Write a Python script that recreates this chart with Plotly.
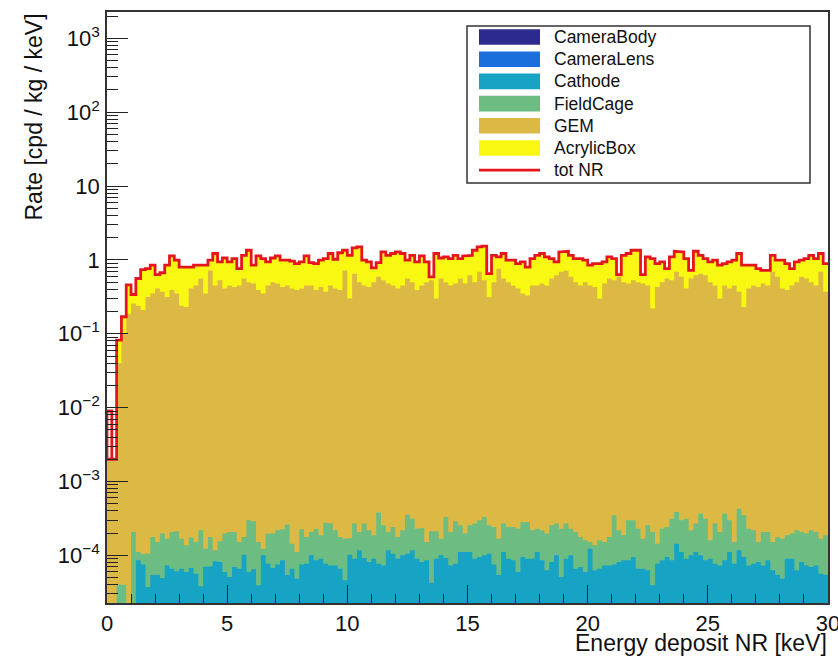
import plotly.graph_objects as go

# ---------------- data (150 bins of 0.2 keV, 0-30 keV) ----------------
bin_width = 0.2
n_bins = 150

# cumulative stack tops [cpd/kg/keV]
tot_nr = [0.009, 0.002, 0.082, 0.17, 0.46, 0.34, 0.56, 0.74, 0.76, 0.85,
          0.63, 0.67, 0.85, 1.13, 0.99, 0.80, 0.80, 0.80, 0.85, 0.86,
          0.85, 0.99, 1.22, 0.94, 1.06, 0.94, 1.04, 0.76, 1.15, 1.35,
          0.85, 1.13, 1.04, 0.94, 1.06, 1.13, 0.99, 0.99, 0.96, 0.89,
          0.94, 1.13, 0.92, 0.89, 0.99, 1.04, 1.22, 1.02, 1.25, 1.35,
          1.15, 1.45, 1.50, 0.99, 0.94, 0.78, 0.92, 1.28, 1.15, 1.22,
          1.28, 1.22, 0.99, 1.15, 0.94, 1.13, 0.94, 0.59, 1.22, 1.06,
          1.10, 1.04, 1.15, 1.04, 1.13,
          1.15, 1.35, 1.50, 1.54, 0.65, 1.15, 1.10, 1.22, 0.99, 0.99,
          0.89, 0.94, 0.80, 1.04, 1.15, 1.22, 1.10, 1.04, 0.94, 1.28,
          1.31, 1.15, 1.04, 1.04, 0.99, 0.85, 0.89, 0.89, 0.94, 1.10,
          1.04, 0.63, 1.15, 1.22, 1.35, 1.35, 0.63, 1.10, 1.04, 0.89,
          0.94, 0.76, 1.10, 1.31, 1.28, 1.04, 0.72, 1.31, 1.15, 1.04,
          0.94, 0.99, 0.85, 0.89, 0.94, 0.99, 1.22, 0.85, 0.85, 0.85,
          0.76, 0.72, 0.72, 1.15, 0.99, 0.99, 0.89, 0.76, 0.94, 0.99,
          1.04, 1.15, 1.04, 1.22, 0.89]

# top of the AcrylicBox layer (= top of the stack); first bin is empty in the stack
acrylic_top = [0.002] + tot_nr[1:]

gem_top = [0.002, 0.002, 0.04, 0.10, 0.187, 0.256, 0.24, 0.21, 0.315, 0.35,
           0.41, 0.37, 0.315, 0.39, 0.35, 0.24, 0.23, 0.41, 0.45, 0.56,
           0.35, 0.72, 0.45, 0.53, 0.41, 0.45, 0.43, 0.45, 0.56, 0.50,
           0.48, 0.39, 0.35, 0.45, 0.50, 0.48, 0.43, 0.45, 0.41, 0.39,
           0.41, 0.45, 0.45, 0.39, 0.43, 0.37, 0.45, 0.41, 0.39, 0.72,
           0.30, 0.65, 0.50, 0.45, 0.43, 0.50, 0.59, 0.53, 0.48, 0.45,
           0.41, 0.45, 0.56, 0.50, 0.39, 0.45, 0.50, 0.53, 0.30, 0.56,
           0.50, 0.45, 0.48, 0.56, 0.48,
           0.62, 0.50, 0.69, 0.53, 0.315, 0.50, 0.76, 0.56, 0.50, 0.45,
           0.41, 0.35, 0.33, 0.45, 0.45, 0.48, 0.45, 0.56, 0.62, 0.69,
           0.72, 0.59, 0.50, 0.45, 0.50, 0.45, 0.43, 0.30, 0.48, 0.56,
           0.53, 0.59, 0.50, 0.48, 0.53, 0.50, 0.48, 0.45, 0.22, 0.43,
           0.50, 0.56, 0.53, 0.69, 0.59, 0.41, 0.56, 0.62, 0.65, 0.62,
           0.50, 0.45, 0.30, 0.45, 0.41, 0.45, 0.37, 0.23, 0.41, 0.45,
           0.43, 0.48, 0.45, 0.69, 0.59, 0.41, 0.39, 0.45, 0.50, 0.59,
           0.56, 0.50, 0.45, 0.69, 0.37]

fieldcage_top = [1.0e-5, 1.0e-5, 4.0e-5, 4.0e-5, 1.5e-5, 2.07e-4, 1.11e-4, 1.05e-4, 1.05e-4, 1.77e-4,
                 1.52e-4, 1.97e-4, 1.68e-4, 2.07e-4, 2.12e-4, 1.68e-4, 1.37e-4, 1.74e-4, 1.52e-4, 2.18e-4,
                 1.23e-4, 1.77e-4, 1.17e-4, 1.55e-4, 1.97e-4, 2.07e-4, 2.07e-4, 1.52e-4, 1.77e-4, 2.98e-4,
                 2.89e-4, 1.52e-4, 1.23e-4, 1.97e-4, 1.97e-4, 2.18e-4, 2.25e-4, 2.61e-4, 1.44e-4, 1.11e-4,
                 2.25e-4, 1.77e-4, 2.07e-4, 2.30e-4, 1.87e-4, 2.77e-4, 2.69e-4, 2.18e-4, 1.77e-4, 1.68e-4,
                 1.72e-4, 2.69e-4, 2.07e-4, 2.69e-4, 2.18e-4, 1.87e-4, 3.79e-4, 2.55e-4, 2.07e-4, 2.42e-4,
                 1.77e-4, 2.18e-4, 3.56e-4, 3.14e-4, 2.30e-4, 2.35e-4, 1.52e-4, 2.12e-4, 2.12e-4, 1.68e-4,
                 3.31e-4, 2.07e-4, 2.89e-4, 2.55e-4, 1.97e-4,
                 2.55e-4, 2.69e-4, 2.98e-4, 3.31e-4, 2.55e-4, 2.42e-4, 1.68e-4, 2.69e-4, 2.42e-4, 2.42e-4,
                 2.30e-4, 2.83e-4, 2.83e-4, 2.18e-4, 2.30e-4, 2.18e-4, 1.97e-4, 2.55e-4, 2.69e-4, 2.30e-4,
                 2.69e-4, 2.30e-4, 2.07e-4, 1.77e-4, 1.60e-4, 1.52e-4, 1.37e-4, 1.60e-4, 1.52e-4, 1.77e-4,
                 3.49e-4, 2.18e-4, 1.87e-4, 2.98e-4, 2.98e-4, 2.30e-4, 1.68e-4, 2.55e-4, 2.07e-4, 1.44e-4,
                 2.30e-4, 2.42e-4, 3.14e-4, 3.87e-4, 2.98e-4, 3.14e-4, 2.18e-4, 2.69e-4, 3.67e-4, 3.14e-4,
                 1.60e-4, 2.69e-4, 2.07e-4, 3.67e-4, 2.98e-4, 1.52e-4, 4.29e-4, 3.49e-4, 2.30e-4, 2.18e-4,
                 1.52e-4, 2.07e-4, 2.07e-4, 1.52e-4, 1.77e-4, 1.68e-4, 1.87e-4, 1.97e-4, 2.18e-4, 2.07e-4,
                 1.97e-4, 2.18e-4, 2.07e-4, 1.68e-4, 1.87e-4]

cathode_top = [1.0e-5, 1.0e-5, 1.0e-5, 1.0e-5, 1.0e-5, 1.0e-5, 8.6e-5, 7.5e-5, 3.73e-5, 5.4e-5,
               5.48e-5, 4.94e-5, 7.3e-5, 6.6e-5, 6.08e-5, 6.6e-5, 5.96e-5, 6.75e-5, 5.65e-5, 3.81e-5,
               6.96e-5, 7.1e-5, 8.3e-5, 8.1e-5, 5.96e-5, 5.1e-5, 6.96e-5, 6.6e-5, 1.02e-4, 5.96e-5,
               6.47e-5, 3.93e-5, 1.0e-4, 7.7e-5, 6.75e-5, 7.5e-5, 8.6e-5, 5.4e-5, 6.6e-5, 4.84e-5,
               7.5e-5, 7.7e-5, 1.0e-4, 8.6e-5, 9.0e-5, 7.7e-5, 7.3e-5, 7.3e-5, 6.6e-5, 4.59e-5,
               1.02e-4, 9.0e-5, 1.17e-4, 9.2e-5, 8.1e-5, 9.0e-5, 7.7e-5, 7.3e-5, 1.17e-4, 1.05e-4,
               9.0e-5, 1.0e-4, 1.05e-4, 1.17e-4, 9.0e-5, 8.1e-5, 8.6e-5, 4.27e-5, 9.0e-5, 1.0e-4,
               9.2e-5, 7.3e-5, 7.7e-5, 1.11e-4, 1.13e-4,
               1.11e-4, 9.0e-5, 9.5e-5, 1.0e-4, 1.05e-4, 7.5e-5, 5.4e-5, 1.11e-4, 9.0e-5, 8.6e-5,
               5.96e-5, 9.5e-5, 9.0e-5, 9.0e-5, 1.11e-4, 8.6e-5, 6.27e-5, 8.1e-5, 1.0e-4, 5.1e-5,
               9.0e-5, 1.0e-4, 6.6e-5, 6.96e-5, 5.96e-5, 1.23e-4, 6.27e-5, 6.6e-5, 7.3e-5, 7.3e-5,
               7.5e-5, 8.1e-5, 8.6e-5, 8.6e-5, 9.5e-5, 6.6e-5, 6.6e-5, 6.27e-5, 3.93e-5, 7.7e-5,
               8.6e-5, 9.5e-5, 8.6e-5, 1.44e-4, 1.11e-4, 9.0e-5, 1.0e-4, 1.11e-4, 1.0e-4, 8.6e-5,
               9.0e-5, 7.7e-5, 7.3e-5, 8.6e-5, 1.11e-4, 7.7e-5, 1.17e-4, 9.5e-5, 7.3e-5, 7.7e-5,
               8.1e-5, 7.3e-5, 8.6e-5, 6.27e-5, 5.4e-5, 4.84e-5, 9.0e-5, 9.0e-5, 6.27e-5, 8.1e-5,
               7.3e-5, 6.96e-5, 7.3e-5, 5.65e-5, 5.4e-5]

# camera contributions lie below the visible range (< 2.3e-5); values in units of 1e-6
camera_lens_top_e6 = [7, 8, 6, 7, 9, 8, 7, 6, 8, 7, 8, 7, 9, 6, 7, 8, 7, 8, 6, 7,
                      8, 9, 7, 6, 8, 7, 7, 8, 9, 7, 6, 8, 7, 8, 7, 9, 8, 6, 7, 8,
                      7, 8, 9, 7, 8, 6, 7, 8, 7, 9, 8, 7, 6, 8, 7, 8, 9, 7, 8, 7,
                      6, 8, 7, 9, 8, 7, 8, 6, 7, 8, 9, 7, 8, 7, 6, 8, 7, 8, 9, 7,
                      8, 6, 7, 8, 7, 9, 8, 7, 6, 8, 7, 8, 9, 7, 8, 7, 6, 8, 7, 9,
                      8, 7, 8, 6, 7, 8, 9, 7, 8, 7, 6, 8, 7, 8, 9, 7, 8, 6, 7, 8,
                      7, 9, 8, 7, 6, 8, 7, 8, 9, 7, 8, 7, 6, 8, 7, 9, 8, 7, 8, 6,
                      7, 8, 9, 7, 8, 7, 6, 8, 7, 8]
camera_body_top_e6 = [3, 2, 3, 4, 3, 2, 3, 3, 4, 2, 3, 3, 2, 4, 3, 3, 2, 3, 4, 3,
                      2, 3, 3, 4, 2, 3, 3, 2, 4, 3, 3, 2, 3, 4, 3, 2, 3, 3, 4, 2,
                      3, 3, 2, 4, 3, 3, 2, 3, 4, 3, 2, 3, 3, 4, 2, 3, 3, 2, 4, 3,
                      3, 2, 3, 4, 3, 2, 3, 3, 4, 2, 3, 3, 2, 4, 3, 3, 2, 3, 4, 3,
                      2, 3, 3, 4, 2, 3, 3, 2, 4, 3, 3, 2, 3, 4, 3, 2, 3, 3, 4, 2,
                      3, 3, 2, 4, 3, 3, 2, 3, 4, 3, 2, 3, 3, 4, 2, 3, 3, 2, 4, 3,
                      3, 2, 3, 4, 3, 2, 3, 3, 4, 2, 3, 3, 2, 4, 3, 3, 2, 3, 4, 3,
                      2, 3, 3, 4, 2, 3, 3, 2, 4, 3]
camera_lens_top = [v * 1e-6 for v in camera_lens_top_e6]
camera_body_top = [v * 1e-6 for v in camera_body_top_e6]

names = ["CameraBody", "CameraLens", "Cathode", "FieldCage", "GEM", "AcrylicBox"]
colors = ["#2c2a8e", "#1b6fdc", "#17a3c4", "#6dbd82", "#dcb944", "#f8f812"]
tops = [camera_body_top, camera_lens_top, cathode_top, fieldcage_top, gem_top, acrylic_top]

y_tickvals = [1e-4, 1e-3, 1e-2, 1e-1, 1, 10, 100, 1000]
y_ticktext = ["10<sup>\u22124</sup>", "10<sup>\u22123</sup>", "10<sup>\u22122</sup>",
              "10<sup>\u22121</sup>", "1", "10", "10<sup>2</sup>", "10<sup>3</sup>"]
x_tickvals = [0, 5, 10, 15, 20, 25, 30]

edges = [i * bin_width for i in range(n_bins + 1)]
FLOOR = 1e-9
FONT = "Liberation Sans, Arial, Helvetica, sans-serif"


def step_polygon(vals):
    xs, ys = [edges[0]], [FLOOR]
    for i, v in enumerate(vals):
        xs += [edges[i], edges[i + 1]]
        ys += [v, v]
    xs.append(edges[-1])
    ys.append(FLOOR)
    return xs, ys


fig = go.Figure()
# ROOT-like THStack: cumulative layers drawn from top to bottom
for name, col, top in reversed(list(zip(names, colors, tops))):
    xs, ys = step_polygon(top)
    fig.add_trace(go.Scatter(x=xs, y=ys, mode="lines", fill="toself", fillcolor=col,
                             line=dict(width=0, color=col), name=name, showlegend=False,
                             hoverinfo="skip"))

# total NR as a red histogram line
rx, ry = [edges[1], edges[0]], [tot_nr[1], tot_nr[1]]
for i, v in enumerate(tot_nr):
    rx += [edges[i], edges[i + 1]]
    ry += [v, v]
fig.add_trace(go.Scatter(x=rx, y=ry, mode="lines", line=dict(color="#e5161b", width=2.8),
                         name="tot NR", showlegend=False, hoverinfo="skip"))

# ---------------- layout ----------------
L, R, T, B = 107, 10, 12, 53
W, H = 838, 656
PW, PH = W - L - R, H - T - B


def X(px):
    return (px - L) / PW


def Y(py):
    return (H - B - py) / PH


minor_y = [m * 10 ** e for e in range(-5, 4) for m in range(2, 10)]

fig.update_layout(
    width=W, height=H, margin=dict(l=L, r=R, t=T, b=B, autoexpand=False),
    paper_bgcolor="white", plot_bgcolor="white",
    font=dict(family=FONT, color="#111"),
    showlegend=False,
    xaxis=dict(range=[0, 30], showgrid=False, zeroline=False, showline=True, mirror=True,
               automargin=False,
               linecolor="#333", linewidth=1.6, ticks="inside", ticklen=18, tickwidth=1.4,
               tickcolor="#222", tickvals=x_tickvals, ticktext=[str(v) for v in x_tickvals],
               tickfont=dict(size=22, family=FONT, color="#111"), ticklabelstandoff=0,
               ticklabeloverflow="allow",
               minor=dict(ticks="inside", ticklen=9, tickwidth=1.2, tickcolor="#222", dtick=1)),
    yaxis=dict(type="log", range=[-4.645, 3.356], showgrid=False, zeroline=False, showline=True,
               mirror=True, automargin=False, linecolor="#333", linewidth=1.6, ticks="inside",
               ticklen=21, tickwidth=1.4, tickcolor="#222", tickvals=y_tickvals, ticktext=y_ticktext,
               tickfont=dict(size=22, family=FONT, color="#111"), ticklabelstandoff=1,
               ticklabeloverflow="allow",
               minor=dict(ticks="inside", ticklen=11, tickwidth=1.2, tickcolor="#222",
                          tickvals=minor_y)),
)

# axis titles (ROOT style, aligned at axis ends)
fig.add_annotation(text="Rate [cpd / kg / keV]", xref="paper", yref="paper", x=X(33), y=Y(12),
                   xanchor="center", yanchor="top", textangle=-90, showarrow=False,
                   font=dict(size=23, family=FONT, color="#111"))
fig.add_annotation(text="Energy deposit NR [keV]", xref="paper", yref="paper", x=X(829), y=Y(643),
                   xanchor="right", yanchor="middle", showarrow=False,
                   font=dict(size=23, family=FONT, color="#111"))

# legend (ROOT TLegend look)
fig.add_shape(type="rect", xref="paper", yref="paper", x0=X(467), x1=X(810), y0=Y(183), y1=Y(26),
              line=dict(color="#333", width=1.5), fillcolor="white", layer="above")
leg_names = names + ["tot NR"]
for k, nm in enumerate(leg_names):
    yc = 37 + 22.2 * k
    if nm == "tot NR":
        fig.add_shape(type="line", xref="paper", yref="paper", x0=X(479), x1=X(540), y0=Y(yc), y1=Y(yc),
                      line=dict(color="#e5161b", width=2.8), layer="above")
    else:
        fig.add_shape(type="rect", xref="paper", yref="paper", x0=X(479), x1=X(540),
                      y0=Y(yc + 7.8), y1=Y(yc - 7.8), line=dict(width=0),
                      fillcolor=colors[k], layer="above")
    fig.add_annotation(text=nm, xref="paper", yref="paper", x=X(552), y=Y(yc), xanchor="left",
                       yanchor="middle", showarrow=False, font=dict(size=17.5, family=FONT, color="#111"))

fig.write_html("out.html")
